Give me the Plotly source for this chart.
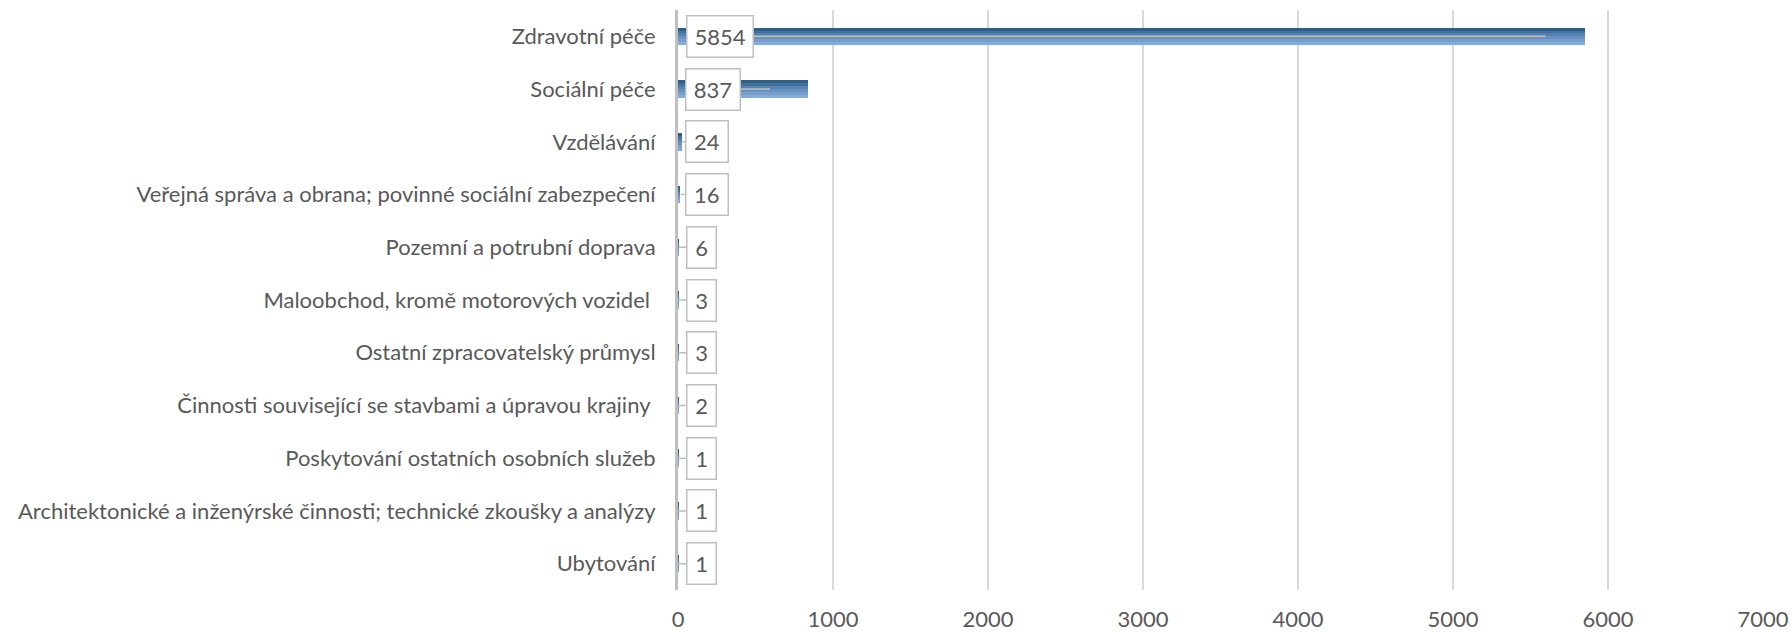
import plotly.graph_objects as go

categories = [
    "Zdravotní péče",
    "Sociální péče",
    "Vzdělávání",
    "Veřejná správa a obrana; povinné sociální zabezpečení",
    "Pozemní a potrubní doprava",
    "Maloobchod, kromě motorových vozidel ",
    "Ostatní zpracovatelský průmysl",
    "Činnosti související se stavbami a úpravou krajiny ",
    "Poskytování ostatních osobních služeb",
    "Architektonické a inženýrské činnosti; technické zkoušky a analýzy",
    "Ubytování",
]
values = [5854, 837, 24, 16, 6, 3, 3, 2, 1, 1, 1]
x_ticks = [0, 1000, 2000, 3000, 4000, 5000, 6000, 7000]

# layout constants
W, H = 1791, 634
ML, MR, MT, MB = 678, 28, 10, 44
XMAX = 7000
px_per_unit = (W - ML - MR) / XMAX

FONT = "Lato, Open Sans, sans-serif"
TXT = "#595959"

cats_disp = [c.replace(" ", "\u00a0") if c.endswith(" ") else c for c in categories]

fig = go.Figure()

# gradient-like bar via stacked thin bands (dark top -> light bottom)
band_colors = ["#2f5f87", "#42709b", "#5682b2", "#6892c1", "#789fcc", "#86abd7"]
bar_w = 0.33
nb = len(band_colors)
for i, col in enumerate(band_colors):
    fig.add_trace(go.Bar(
        x=values, y=cats_disp, orientation="h",
        width=bar_w / nb, offset=-bar_w / 2 + i * bar_w / nb,
        marker=dict(color=col, line=dict(width=0)),
        showlegend=False, hoverinfo="skip",
    ))

# callout labels
tip_frac = [0.956, 0.71, 1, 1, 1, 1, 1, 1, 1, 1, 1]
digit_w = 12.3
box_left = ML + 9
for c, v, f in zip(cats_disp, values, tip_frac):
    nd = len(str(v))
    box_w = digit_w * nd + 16
    tip_px = ML + v * f * px_per_unit
    center = box_left + box_w / 2
    fig.add_annotation(
        x=v * f, y=c, xref="x", yref="y",
        text=str(v), showarrow=True, arrowhead=0, arrowwidth=1.5,
        arrowcolor="#bfbfbf", ax=center - tip_px, ay=0,
        axref="pixel", ayref="pixel",
        font=dict(family=FONT, size=22, color=TXT),
        bgcolor="white", bordercolor="#bfbfbf", borderwidth=1.5,
        borderpad=6.5, width=box_w - 13, align="center",
    )

fig.update_layout(
    width=W, height=H,
    margin=dict(l=ML, r=MR, t=MT, b=MB, autoexpand=False),
    paper_bgcolor="white", plot_bgcolor="white",
    barmode="overlay", bargap=0,
    font=dict(family=FONT, color=TXT, size=22),
    xaxis=dict(
        range=[0, XMAX], tickvals=x_ticks, ticktext=[str(t) for t in x_ticks],
        showgrid=True, gridcolor="#d9d9d9", gridwidth=1.5,
        zeroline=False, showline=False, ticks="",
        tickfont=dict(family=FONT, size=22, color=TXT),
        ticklabelstandoff=14, fixedrange=True, automargin=False,
    ),
    yaxis=dict(
        categoryorder="array", categoryarray=cats_disp,
        autorange="reversed", automargin=False,
        showline=True, linecolor="#bfbfbf", linewidth=3,
        showgrid=False, zeroline=False, ticks="",
        tickfont=dict(family=FONT, size=22, color=TXT),
        ticklabelstandoff=15,
    ),
)

fig.write_html("out.html", config={"displayModeBar": False},
               post_script="document.body.style.margin='0';")
